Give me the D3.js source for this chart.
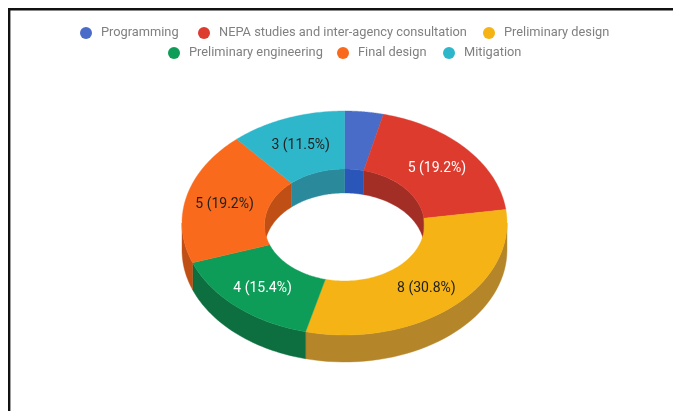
<!DOCTYPE html>
<html>
<head>
<meta charset="utf-8">
<script src="https://cdn.jsdelivr.net/npm/d3@7"></script>
<style>
  html, body { margin: 0; padding: 0; background: #fff; }
  svg { display: block; }
  text { font-family: Roboto, sans-serif; }
</style>
</head>
<body>
<svg id="chart" width="673" height="411"></svg>
<script>
const categories = ["Programming", "NEPA studies and inter-agency consultation", "Preliminary design",
    "Preliminary engineering", "Final design", "Mitigation"];
const values = [1, 5, 8, 4, 5, 3];
const labels = ["", "5 (19.2%)", "8 (30.8%)", "4 (15.4%)", "5 (19.2%)", "3 (11.5%)"];
const topColors = ["#4a6cc8", "#dc3b2e", "#f5b312", "#0f9d58", "#f96b1b", "#2fb7cb"];
const wallColors = ["#2c56ba", "#a32e25", "#b5852a", "#0b6e3f", "#c04f15", "#2b8a9b"];
const labelColors = ["#fff", "#fff", "#222", "#fff", "#222", "#222"];

const W = 673, H = 411;
const svg = d3.select("#chart");

// frame
svg.append("path")
    .attr("d", `M9.2,${H} V9.2 H${W}`)
    .attr("fill", "none").attr("stroke", "#111").attr("stroke-width", 2.4);

const defs = svg.append("defs");
defs.append("filter").attr("id", "soft")
    .append("feGaussianBlur").attr("stdDeviation", 0.5);

const cx = 344.5, cy = 223, rx = 162.5, ry = 112, depth = 27;
const irx = 80, iry = 56, innerDy = 2, innerDepth = 24;

const pie = d3.pie().sort(null).value(d => d);
const slices = pie(values);
const pt = (a, r1, r2, dy) => [cx + r1 * Math.sin(a), cy - r2 * Math.cos(a) + dy];

// wall of one slice between two angles
function wall(a0, a1, r1, r2, dy, d) {
    const angles = d3.range(0, 41).map(i => a0 + (a1 - a0) * i / 40);
    const top = angles.map(a => pt(a, r1, r2, dy));
    const bottom = angles.slice().reverse().map(a => pt(a, r1, r2, dy + d));
    return d3.line()(top.concat(bottom)) + "Z";
}

function ring(a0, a1) {
    const angles = d3.range(0, 61).map(i => a0 + (a1 - a0) * i / 60);
    const outer = angles.map(a => pt(a, rx, ry, 0));
    const inner = angles.slice().reverse().map(a => pt(a, irx, iry, innerDy));
    return d3.line()(outer.concat(inner)) + "Z";
}

const g = svg.append("g").attr("filter", "url(#soft)");

// inner wall: back half of the hole
slices.forEach((s, i) => {
    const back = [[Math.max(s.startAngle, 0), Math.min(s.endAngle, Math.PI / 2)],
                  [Math.max(s.startAngle, 3 * Math.PI / 2), Math.min(s.endAngle, 2 * Math.PI)]];
    back.filter(b => b[1] > b[0]).forEach(b => {
        g.append("path").attr("d", wall(b[0], b[1], irx, iry, innerDy, innerDepth))
            .attr("fill", wallColors[i]).attr("stroke", wallColors[i]).attr("stroke-width", 0.4);
    });
});

// outer wall: front half
slices.forEach((s, i) => {
    const a0 = Math.max(s.startAngle, Math.PI / 2), a1 = Math.min(s.endAngle, 3 * Math.PI / 2);
    if (a1 > a0) {
        g.append("path").attr("d", wall(a0, a1, rx, ry, 0, depth))
            .attr("fill", wallColors[i]).attr("stroke", wallColors[i]).attr("stroke-width", 0.4);
    }
});

// top surface
slices.forEach((s, i) => {
    g.append("path").attr("d", ring(s.startAngle, s.endAngle))
        .attr("fill", topColors[i]).attr("stroke", topColors[i]).attr("stroke-width", 0.4);
});

// slice labels
slices.forEach((s, i) => {
    if (!labels[i]) return;
    const mid = (s.startAngle + s.endAngle) / 2;
    const p = pt(mid, rx * 0.76, ry * 0.76, 2);
    g.append("text").attr("x", p[0]).attr("y", p[1])
        .attr("text-anchor", "middle").attr("dominant-baseline", "middle")
        .attr("font-size", 14).attr("fill", labelColors[i]).text(labels[i]);
});

// legend, two centred rows
const legendRows = [[0, 1, 2], [3, 4, 5]];
const legendY = [33, 53];
const legendX = [[86, 204, 489], [174, 343, 449]];
legendRows.forEach((row, r) => {
    row.forEach((c, j) => {
        g.append("circle").attr("cx", legendX[r][j]).attr("cy", legendY[r]).attr("r", 6)
            .attr("fill", topColors[c]);
        g.append("text").attr("x", legendX[r][j] + 15).attr("y", legendY[r])
            .attr("dominant-baseline", "middle")
            .attr("font-size", 12.8).attr("fill", "#808080").text(categories[c]);
    });
});
</script>
</body>
</html>
